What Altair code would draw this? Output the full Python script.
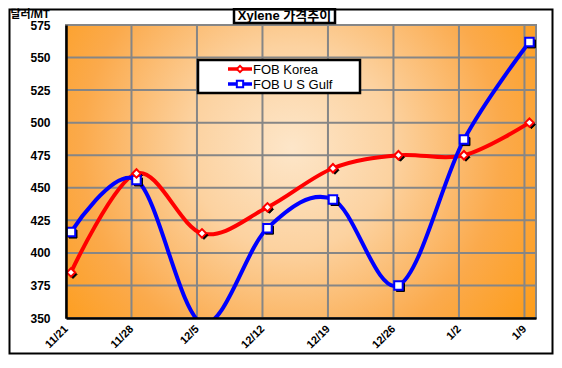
import altair as alt
import pandas as pd

# ---- data ----
dates = ["11/21", "11/28", "12/5", "12/12", "12/19", "12/26", "1/2", "1/9"]
korea = [385, 461, 415, 435, 465, 475, 475, 500]
usgulf = [416, 456, 346, 419, 441, 375, 487, 562]
series_names = ["FOB Korea", "FOB U S Gulf"]
series_colors = ["#FF0000", "#0000FF"]
series_shapes = ["diamond", "square"]
y_ticks = [350, 375, 400, 425, 450, 475, 500, 525, 550, 575]
title_text = "Xylene 가격추이"
y_title = "달러/MT"

W, H = 470, 293
PAD_L, PAD_T, PAD_R, PAD_B = 58, 17, 18, 37
FONT = "Liberation Sans, Arial, Noto Sans CJK KR, sans-serif"
GRID = "#868686"

rows = []
for i, d in enumerate(dates):
    rows.append({"idx": i, "date": d, "price": korea[i], "series": series_names[0]})
for i, d in enumerate(dates):
    rows.append({"idx": i, "date": d, "price": usgulf[i], "series": series_names[1]})
df = pd.DataFrame(rows)
one = pd.DataFrame({"a": [0]})

label_expr = "[" + ",".join("'%s'" % d for d in dates) + "][datum.value]"

x_enc = alt.X(
    "idx:Q",
    scale=alt.Scale(domain=[-0.076, 7.1], nice=False, zero=False),
    axis=alt.Axis(
        values=list(range(len(dates))), labelExpr=label_expr, title=None,
        grid=False, tickOffset=-5,
        ticks=False, domainColor="black", domainWidth=2.5,
        labelAngle=-45, labelAlign="right", labelBaseline="middle",
        labelPadding=9, labelFont=FONT, labelFontSize=11, labelFontWeight="bold",
        labelColor="black", zindex=1,
    ),
)
y_enc = alt.Y(
    "price:Q",
    scale=alt.Scale(domain=[350, 575], nice=False, zero=False),
    axis=alt.Axis(
        values=y_ticks, grid=False,
        ticks=False, domainColor="black", domainWidth=2.5,
        labelPadding=16, labelFont=FONT, labelFontSize=12, labelFontWeight="bold",
        labelColor="black", title=y_title, titleAngle=0, titleAlign="left",
        titleBaseline="alphabetic", titleX=-56, titleY=-8, titleFont=FONT,
        titleFontSize=11, titleFontWeight="bold", titleColor="black", zindex=1,
    ),
)

gradient = {
    "gradient": "radial",
    "x1": 0.48, "y1": 0.45, "r1": 0,
    "x2": 0.48, "y2": 0.45, "r2": 0.72,
    "stops": [
        {"offset": 0.0, "color": "#FDE6C9"},
        {"offset": 0.3, "color": "#FCD2A0"},
        {"offset": 0.62, "color": "#FBAA4C"},
        {"offset": 1.0, "color": "#FF9600"},
    ],
}

bg = alt.Chart(one).mark_rect(fill=gradient, stroke=GRID, strokeWidth=2).encode(
    x=alt.value(0), x2=alt.value(W), y=alt.value(0), y2=alt.value(H)
)

hgrid = alt.Chart(pd.DataFrame({"price": y_ticks})).mark_rule(color=GRID, strokeWidth=2).encode(y=y_enc)
vgrid = alt.Chart(pd.DataFrame({"idx": list(range(len(dates)))})).mark_rule(
    color=GRID, strokeWidth=2, xOffset=-5
).encode(x=x_enc)

base = alt.Chart(df)

lines = base.mark_line(strokeWidth=4, interpolate="cardinal", clip=True).encode(
    x=x_enc, y=y_enc,
    stroke=alt.Stroke("series:N", scale=alt.Scale(domain=series_names, range=series_colors), legend=None),
)

def pts(name, shape, color, shadow):
    c = base.transform_filter(alt.datum.series == name)
    if shadow:
        m = c.mark_point(shape=shape, filled=True, fill="black", stroke="black", strokeWidth=1,
                         size=64, opacity=1, xOffset=2, yOffset=2, clip=True)
    else:
        m = c.mark_point(shape=shape, filled=True, fill="white", stroke=color, strokeWidth=2,
                         size=72, opacity=1, clip=True)
    return m.encode(x=x_enc, y=y_enc)

shadowU = pts(series_names[1], "square", series_colors[1], True)
shadowK = pts(series_names[0], "diamond", series_colors[0], True)
ptsU = pts(series_names[1], "square", series_colors[1], False)
ptsK = pts(series_names[0], "diamond", series_colors[0], False)

# legend (drawn as a boxed key)
legend_box = alt.Chart(one).mark_rect(fill="white", stroke="black", strokeWidth=2.5).encode(
    x=alt.value(132), x2=alt.value(294), y=alt.value(35), y2=alt.value(68)
)
legend_layers = []
for k, (name, col, shp) in enumerate(zip(series_names, series_colors, series_shapes)):
    ry = 44 + 15 * k
    legend_layers.append(
        alt.Chart(one).mark_rule(color=col, strokeWidth=3.5).encode(
            x=alt.value(162), x2=alt.value(186), y=alt.value(ry)
        )
    )
    legend_layers.append(
        alt.Chart(one).mark_point(shape=shp, filled=True, fill="white", stroke=col,
                                  strokeWidth=2, size=40, opacity=1).encode(
            x=alt.value(174), y=alt.value(ry)
        )
    )
    legend_layers.append(
        alt.Chart(one).mark_text(text=name, font=FONT, fontSize=13, color="black",
                                 align="left", baseline="middle").encode(
            x=alt.value(187), y=alt.value(ry + 0.5)
        )
    )

title_box = alt.Chart(one).mark_rect(fill="white", stroke="black", strokeWidth=2.5).encode(
    x=alt.value(168), x2=alt.value(269), y=alt.value(-16), y2=alt.value(-2)
)
title_mark = alt.Chart(one).mark_text(
    text=title_text, font=FONT, fontSize=13, fontWeight="bold", color="black",
    align="center", baseline="alphabetic",
).encode(x=alt.value(218.5), y=alt.value(-5))

border = alt.Chart(one).mark_rect(fill=None, stroke="black", strokeWidth=2).encode(
    x=alt.value(-PAD_L + 1.5), x2=alt.value(W + PAD_R - 1.5),
    y=alt.value(-PAD_T + 1.5), y2=alt.value(H + PAD_B - 1.5)
)

chart = alt.layer(
    bg, hgrid, vgrid, lines, shadowU, shadowK, ptsU, ptsK, legend_box, *legend_layers,
    title_box, title_mark, border
).properties(
    width=W, height=H, autosize="none",
    padding={"left": PAD_L, "top": PAD_T, "right": PAD_R, "bottom": PAD_B},
).configure(background="white").configure_view(stroke=None)

chart.save("out.html", embed_options={"renderer": "svg", "actions": False})
